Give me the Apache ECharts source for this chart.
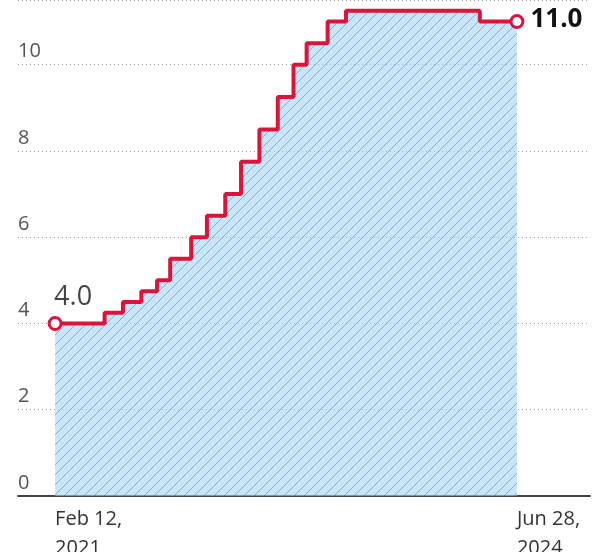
<!DOCTYPE html>
<html>
<head>
<meta charset="utf-8">
<script src="https://cdn.jsdelivr.net/npm/echarts@6/dist/echarts.min.js"></script>
<style>
html,body{margin:0;padding:0;background:#fff;}
#chart{width:604px;height:552px;}
</style>
</head>
<body>
<div id="chart"></div>
<script>
// rate changes (date the step starts, level)
var dates = ['2021-02-12','2021-06-24','2021-08-12','2021-09-30','2021-11-11','2021-12-16',
	'2022-02-10','2022-03-24','2022-05-12','2022-06-23','2022-08-11','2022-09-29',
	'2022-11-10','2022-12-15','2023-02-09','2023-03-30','2024-03-21','2024-06-28'];
var rates = [4.0,4.25,4.5,4.75,5.0,5.5,6.0,6.5,7.0,7.75,8.5,9.25,10.0,10.5,11.0,11.25,11.0,11.0];
var yTicks = [0,2,4,6,8,10];
var xLabelDates = ['2021-02-12','2024-06-28'];
var xLabels = ['Feb 12,\n2021','Jun 28,\n2024'];

var DAY = 86400000;
var FONT = '"Open Sans", "DejaVu Sans", sans-serif';

function ts(d) { return +new Date(d + 'T00:00:00Z'); }

// hatched light-blue fill
function hatch() {
	var s = 10;
	var c = document.createElement('canvas');
	c.width = s; c.height = s;
	var ctx = c.getContext('2d');
	ctx.fillStyle = 'rgba(160,212,244,0.58)';
	ctx.fillRect(0, 0, s, s);
	ctx.strokeStyle = 'rgba(80,95,110,0.45)';
	ctx.lineWidth = 1;
	ctx.beginPath();
	ctx.moveTo(-1, s + 1); ctx.lineTo(s + 1, -1);
	ctx.moveTo(-2, 2); ctx.lineTo(2, -2);
	ctx.moveTo(s - 2, s + 2); ctx.lineTo(s + 2, s - 2);
	ctx.stroke();
	return c;
}

var seriesData = dates.map(function (d, i) {
	var item = { value: [ts(d), rates[i]], symbol: 'none' };
	if (i === 0) {
		item.symbol = 'circle';
		item.label = {
			show: true, position: 'top', align: 'left', offset: [-1, 0],
			formatter: rates[i].toFixed(1), color: '#444', fontSize: 27, fontFamily: FONT
		};
	}
	if (i === dates.length - 1) {
		item.symbol = 'circle';
		item.label = {
			show: true, position: 'right', distance: 6, offset: [0, -2],
			formatter: rates[i].toFixed(1), color: '#111', fontSize: 26,
			fontWeight: 'bold', fontFamily: FONT
		};
	}
	return item;
});

var t0 = ts(dates[0]);
var t1 = ts(dates[dates.length - 1]);
var labelTs = xLabelDates.map(ts);

var myChart = echarts.init(document.getElementById('chart'));
myChart.setOption({
	animation: false,
	grid: { left: 18, right: 14, top: 0, bottom: 56, outerBoundsMode: 'none', containLabel: false },
	xAxis: {
		type: 'value',
		min: t0 - 99 * DAY,
		max: t1 + 195 * DAY,
		axisLine: { show: true, lineStyle: { color: '#444', width: 2 } },
		axisTick: { show: false },
		splitLine: { show: false },
		axisLabel: {
			customValues: labelTs,
			formatter: function (v) {
				var i = labelTs.indexOf(v);
				return i >= 0 ? xLabels[i] : '';
			},
			align: 'left', verticalAlign: 'top', margin: 9, color: '#333', fontSize: 20,
			lineHeight: 29, fontFamily: FONT
		}
	},
	yAxis: {
		type: 'value',
		min: 0, max: 11.5, interval: 2,
		axisLine: { show: false },
		axisTick: { show: false },
		axisLabel: {
			inside: true, margin: 0, align: 'left', verticalAlign: 'bottom',
			padding: [0, 0, 3, 0],
			color: '#555', fontSize: 20, fontFamily: FONT,
			formatter: function (v) { return yTicks.indexOf(v) >= 0 ? String(v) : ''; }
		},
		splitLine: { show: true, lineStyle: { color: '#999', width: 1, type: [1, 3] } }
	},
	series: [{
		type: 'line',
		step: 'end',
		data: seriesData,
		symbolSize: 12,
		lineStyle: { color: '#dc143c', width: 4 },
		itemStyle: { color: '#fff', borderColor: '#dc143c', borderWidth: 3 },
		areaStyle: { color: { image: hatch(), repeat: 'repeat' }, opacity: 1 },
		z: 3
	}]
});
</script>
</body>
</html>
